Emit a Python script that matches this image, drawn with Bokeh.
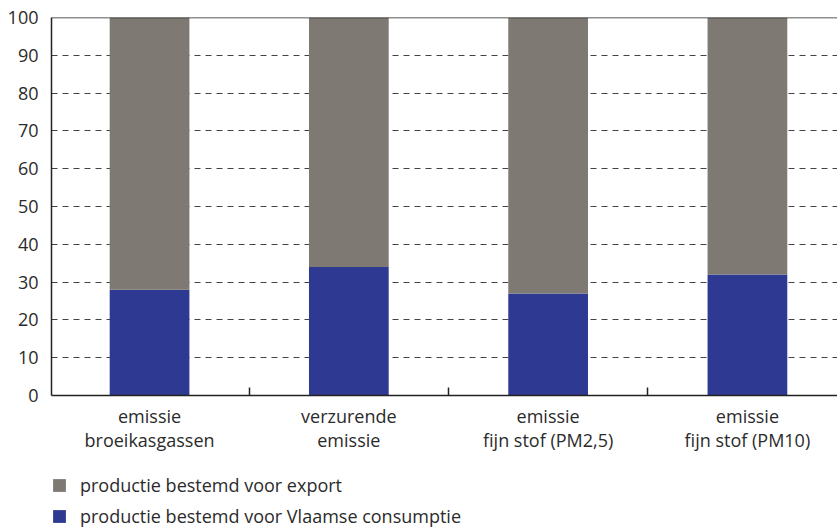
from bokeh.plotting import figure
from bokeh.models import Range1d, FixedTicker, Legend, LegendItem, Span, ColumnDataSource
from bokeh.layouts import column
from bokeh.embed import file_html
from bokeh.resources import INLINE

categories = ["emissie\nbroeikasgassen", "verzurende\nemissie", "emissie\nfijn stof (PM2,5)", "emissie\nfijn stof (PM10)"]
vlaams = [28, 34, 27, 32]
export = [100 - v for v in vlaams]
series_names = ["productie bestemd voor export", "productie bestemd voor Vlaamse consumptie"]
y_ticks = list(range(0, 101, 10))

GRAY = "#7e7972"
BLUE = "#2e3991"
TXT = "#2b2b2b"
FONT = "Open Sans"
FS = "18px"

xs = [i + 0.5 for i in range(len(categories))]
src = ColumnDataSource(dict(x=xs, vl=vlaams, ex=export, top=[100] * len(xs)))

p = figure(frame_width=786, frame_height=378, output_backend="svg", toolbar_location=None,
           x_range=Range1d(0.008, 3.952), y_range=Range1d(0, 100),
           min_border_left=51, min_border_right=0, min_border_top=17, min_border_bottom=74)
p.outline_line_color = None
p.background_fill_color = "white"
p.border_fill_color = "white"

r_blue = p.vbar(x="x", width=0.40, bottom=0, top="vl", source=src, color=BLUE, line_color=None)
r_gray = p.vbar(x="x", width=0.40, bottom="vl", top="top", source=src, color=GRAY, line_color=None)

# grid
p.xgrid.visible = False
p.ygrid.ticker = FixedTicker(ticks=y_ticks)
p.ygrid.grid_line_color = "#444444"
p.ygrid.grid_line_dash = "6 5"
p.ygrid.grid_line_width = 1
p.ygrid.level = "underlay"
p.add_layout(Span(location=100, dimension="width", line_color="#222222", line_width=1.5))

# y axis
p.yaxis.ticker = FixedTicker(ticks=y_ticks)
p.yaxis.major_tick_out = 0
p.yaxis.major_tick_in = 0
p.yaxis.minor_tick_out = 0
p.yaxis.axis_line_color = "#222222"
p.yaxis.axis_line_width = 1.5
p.yaxis.major_label_text_font = FONT
p.yaxis.major_label_text_font_size = FS
p.yaxis.major_label_text_color = TXT
p.yaxis.major_label_standoff = 13

# x axis
p.xaxis.ticker = FixedTicker(ticks=xs, minor_ticks=[1, 2, 3])
p.xaxis.major_label_overrides = {x: c for x, c in zip(xs, categories)}
p.xaxis.major_tick_in = 0
p.xaxis.major_tick_out = 0
p.xaxis.minor_tick_in = 8
p.xaxis.minor_tick_out = 0
p.xaxis.minor_tick_line_color = "#222222"
p.xaxis.minor_tick_line_width = 1.5
p.xaxis.axis_line_color = "#222222"
p.xaxis.axis_line_width = 1.5
p.xaxis.major_label_text_font = FONT
p.xaxis.major_label_text_font_size = FS
p.xaxis.major_label_text_color = TXT
p.xaxis.major_label_text_line_height = 1.0
p.xaxis.major_label_standoff = 8

# legend in a separate strip below the chart
lg = figure(frame_width=837, frame_height=59, output_backend="svg", toolbar_location=None,
            x_range=Range1d(0, 1), y_range=Range1d(0, 1), x_axis_type=None, y_axis_type=None,
            min_border_left=0, min_border_right=0, min_border_top=0, min_border_bottom=0)
lg.outline_line_color = None
lg.grid.visible = False
dummy = ColumnDataSource(dict(x=[-10], top=[-10]))
lg_gray = lg.vbar(x="x", top="top", width=0.1, source=dummy, color=GRAY, line_color=None)
lg_blue = lg.vbar(x="x", top="top", width=0.1, source=dummy, color=BLUE, line_color=None)
legend = Legend(items=[LegendItem(label=series_names[0], renderers=[lg_gray]),
                       LegendItem(label=series_names[1], renderers=[lg_blue])],
                location=(51, 0), orientation="vertical",
                glyph_width=16, glyph_height=16, label_standoff=13, spacing=7,
                label_text_font=FONT, label_text_font_size=FS, label_text_color=TXT,
                border_line_color=None, background_fill_alpha=0, padding=0, margin=0)
lg.add_layout(legend, "center")

layout = column(p, lg, spacing=0)
open("out.html", "w").write(file_html(layout, INLINE))
